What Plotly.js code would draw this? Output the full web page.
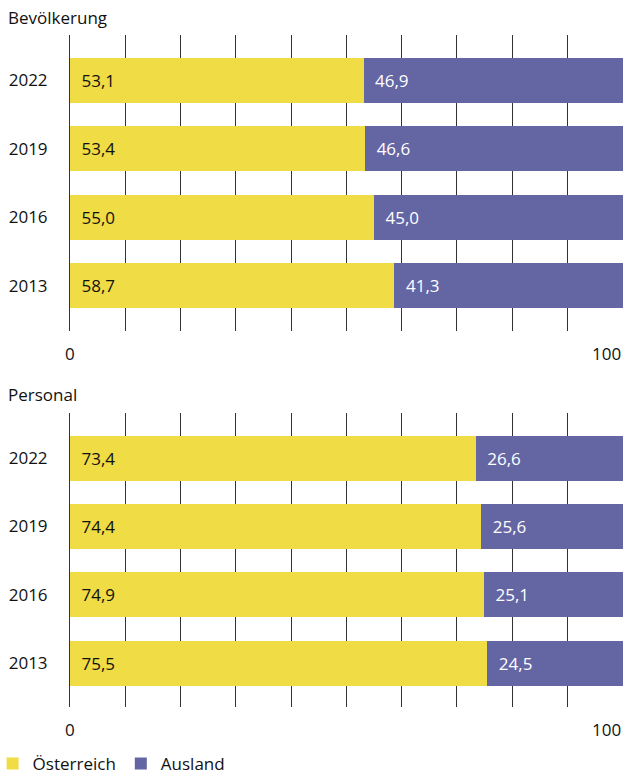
<!DOCTYPE html>
<html><head><meta charset="utf-8">
<script src="https://cdn.plot.ly/plotly-3.0.1.min.js"></script>
<style>html,body{margin:0;padding:0;background:#fff;}</style>
</head><body>
<div id="chart" style="width:625px;height:776px;"></div>
<script>
const years = ['2022', '2019', '2016', '2013'];
const bevOesterreich = [53.1, 53.4, 55.0, 58.7];
const bevAusland = [46.9, 46.6, 45.0, 41.3];
const persOesterreich = [73.4, 74.4, 74.9, 75.5];
const persAusland = [26.6, 25.6, 25.1, 24.5];
const panelTitles = ['Bevölkerung', 'Personal'];
const seriesNames = ['Österreich', 'Ausland'];
const xTickLabels = ['0', '100'];

const cYellow = '#F0DC45';
const cPurple = '#6466A4';
const font = '"Open Sans", Lato, sans-serif';

function bar(x, name, color, txtColor, xa, ya, showLegend) {
  return {
    type: 'bar', orientation: 'h', x: x, y: years, name: name,
    marker: {color: color, line: {width: 0}},
    xaxis: xa, yaxis: ya, showlegend: showLegend, legendgroup: name,
    texttemplate: '\u2002%{x:.1f}', textposition: 'inside', insidetextanchor: 'start',
    textfont: {family: font, size: 17, color: txtColor},
    constraintext: 'none', hoverinfo: 'none', cliponaxis: false
  };
}

const data = [
  bar(bevOesterreich, seriesNames[0], cYellow, '#111', 'x', 'y', true),
  bar(bevAusland, seriesNames[1], cPurple, '#fff', 'x', 'y', true),
  bar(persOesterreich, seriesNames[0], cYellow, '#111', 'x2', 'y2', false),
  bar(persAusland, seriesNames[1], cPurple, '#fff', 'x2', 'y2', false)
];

const xax = (anchor) => ({
  range: [0, 100.05], dtick: 10, tick0: 0, showgrid: true, gridcolor: '#333', gridwidth: 1,
  zeroline: false, showticklabels: false, ticks: '', anchor: anchor, fixedrange: true
});
const yax = (domain, anchor, range) => ({
  domain: domain, anchor: anchor, type: 'category', categoryorder: 'array',
  categoryarray: ['2013', '2016', '2019', '2022'], range: range,
  showgrid: false, zeroline: false, showline: true, linecolor: '#333', linewidth: 1,
  layer: 'above traces', ticks: '', ticklabelstandoff: 18, automargin: false,
  tickfont: {family: font, size: 17, color: '#111'}, fixedrange: true
});

const ann = [];
const titleY = [0.978, 0.491];
panelTitles.forEach((t, i) => ann.push({
  text: t, xref: 'paper', yref: 'paper', x: -0.116, y: titleY[i], xanchor: 'left', yanchor: 'middle',
  showarrow: false, font: {family: font, size: 17, color: '#111'}
}));
const tickY = [0.5451, 0.0593];
tickY.forEach((yy, i) => {
  ann.push({text: xTickLabels[0], xref: i ? 'x2' : 'x', yref: 'paper', x: 0, y: yy, xanchor: 'center', yanchor: 'middle', showarrow: false, font: {family: font, size: 17, color: '#111'}});
  ann.push({text: xTickLabels[1], xref: i ? 'x2' : 'x', yref: 'paper', x: 100, y: yy, xanchor: 'right', yanchor: 'middle', showarrow: false, font: {family: font, size: 17, color: '#111'}});
});

const layout = {
  width: 625, height: 776, margin: {l: 70, r: 2, t: 0, b: 0, autoexpand: false},
  paper_bgcolor: '#fff', plot_bgcolor: '#fff', barmode: 'stack', bargap: 0.343,
  separators: ',.', font: {family: font, size: 17, color: '#111'},
  xaxis: xax('y'), yaxis: yax([0.5735, 0.9549], 'x', [-0.66, 3.66]),
  xaxis2: xax('y2'), yaxis2: yax([0.0889, 0.4678], 'x2', [-0.64, 3.66]),
  showlegend: true,
  legend: {orientation: 'h', x: -0.14, xanchor: 'left', y: 0.0155, yanchor: 'middle',
    font: {family: font, size: 17, color: '#111'}, itemwidth: 30, tracegroupgap: 0, bgcolor: 'rgba(0,0,0,0)'},
  annotations: ann
};

Plotly.newPlot('chart', data, layout, {displayModeBar: false, staticPlot: true});
</script>
</body></html>
